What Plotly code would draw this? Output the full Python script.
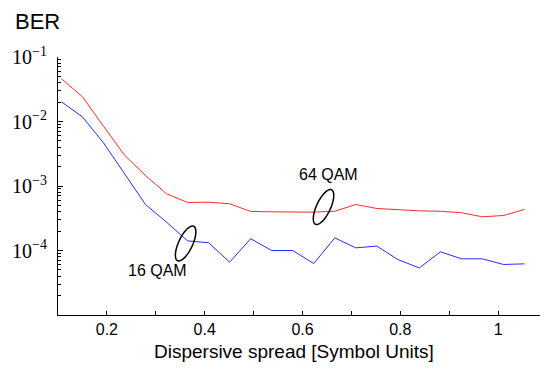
import numpy as np
import plotly.graph_objects as go

# ---- data ----
spread = [0.107, 0.150, 0.193, 0.236, 0.279, 0.322, 0.365, 0.408, 0.451, 0.494,
          0.537, 0.580, 0.623, 0.666, 0.709, 0.752, 0.795, 0.839, 0.882, 0.925,
          0.968, 1.011, 1.054]
ber_64qam = [4.59e-2, 2.42e-2, 8.45e-3, 3.01e-3, 1.455e-3, 7.57e-4, 5.55e-4, 5.61e-4,
             5.30e-4, 4.03e-4, 3.98e-4, 3.95e-4, 3.93e-4, 4.06e-4, 5.16e-4, 4.48e-4,
             4.28e-4, 4.12e-4, 4.06e-4, 3.85e-4, 3.33e-4, 3.49e-4, 4.33e-4]
ber_16qam = [2.02e-2, 1.18e-2, 4.67e-3, 1.545e-3, 5.16e-4, 2.75e-4, 1.41e-4, 1.32e-4,
             6.59e-5, 1.52e-4, 1.00e-4, 1.00e-4, 6.28e-5, 1.57e-4, 1.10e-4, 1.17e-4,
             7.24e-5, 5.37e-5, 9.55e-5, 7.43e-5, 7.43e-5, 6.07e-5, 6.21e-5]
y_tickvals = [1e-4, 1e-3, 1e-2, 1e-1]
y_ticktext = ["10<sup>\u22124</sup>", "10<sup>\u22123</sup>",
              "10<sup>\u22122</sup>", "10<sup>\u22121</sup>"]
x_tickvals = [0.2, 0.4, 0.6, 0.8, 1.0]
x_ticktext = ["0.2", "0.4", "0.6", "0.8", "1"]
labels = ["16 QAM", "64 QAM"]

# page has an 8px body margin: size the figure so the plot lands where the reference has it
OFF = 8
PAGE_W, PAGE_H = 548, 369
W, H = PAGE_W - OFF, PAGE_H - OFF
ML, MR, MT, MB = 58 - OFF, 1, 57 - OFF, 54
XR = [0.1, 1.1]
YR = [-5, -1]

fig = go.Figure()
fig.add_trace(go.Scatter(x=spread, y=ber_64qam, mode="lines",
                         line=dict(color="#ff2a2a", width=1), name="64 QAM"))
fig.add_trace(go.Scatter(x=spread, y=ber_16qam, mode="lines",
                         line=dict(color="#2a2aff", width=1), name="16 QAM"))

minor_y = [k * 10.0 ** e for e in range(-5, -1) for k in range(2, 10)]

fig.update_xaxes(range=XR, showline=True, linecolor="black", linewidth=1,
                 ticks="inside", ticklen=4, tickcolor="black",
                 tickvals=x_tickvals, ticktext=x_ticktext,
                 minor=dict(tickvals=[0.3, 0.5, 0.7, 0.9], ticks="inside",
                            ticklen=4, tickcolor="black", showgrid=False),
                 showgrid=False, zeroline=False, automargin=False,
                 tickfont=dict(family="Liberation Sans", size=16, color="black"))
fig.update_yaxes(type="log", range=YR, showline=True, linecolor="black", linewidth=1,
                 ticks="inside", ticklen=5, tickcolor="black",
                 tickvals=y_tickvals, ticktext=y_ticktext, ticklabelstandoff=6,
                 minor=dict(tickvals=minor_y, ticks="inside", ticklen=3,
                            tickcolor="black", showgrid=False),
                 showgrid=False, zeroline=False, automargin=False,
                 tickfont=dict(family="Liberation Serif", size=20, color="black"))

pw, ph = W - ML - MR, H - MT - MB

def to_px(x, logy):
    px = (x - XR[0]) / (XR[1] - XR[0]) * pw
    py = (YR[1] - logy) / (YR[1] - YR[0]) * ph
    return px, py

def ellipse_path(cx, clogy, a=19, b=7, ang=65):
    px0, py0 = to_px(cx, clogy)
    t = np.linspace(0, 2 * np.pi, 60)
    th = np.deg2rad(ang)
    ex = a * np.cos(t) * np.cos(th) - b * np.sin(t) * np.sin(th)
    ey = a * np.cos(t) * np.sin(th) + b * np.sin(t) * np.cos(th)
    xs = (px0 + ex) / pw
    ys = (ph - (py0 - ey)) / ph
    return "M " + " L ".join(f"{u:.5f},{v:.5f}" for u, v in zip(xs, ys)) + " Z"

ell_centers = [(0.361, -3.891), (0.643, -3.326)]
for cx, cy in ell_centers:
    fig.add_shape(type="path", xref="paper", yref="paper", path=ellipse_path(cx, cy),
                  line=dict(color="black", width=1.5))

label_pos = [(0.304, -4.31), (0.6525, -2.82)]
for (lx, ly), txt in zip(label_pos, labels):
    fig.add_annotation(x=lx, y=ly, xref="x", yref="y", text=txt, showarrow=False,
                       font=dict(family="Liberation Sans", size=16, color="black"))

def page_to_paper(px, py):
    return (px - OFF - ML) / pw, (MT + ph - (py - OFF)) / ph

bx, by = page_to_paper(13, 22)
fig.add_annotation(xref="paper", yref="paper", x=bx, y=by,
                   xanchor="left", yanchor="middle", text="BER", showarrow=False,
                   font=dict(family="Liberation Sans", size=22, color="black"))
tx, ty = page_to_paper(294, 351)
fig.add_annotation(xref="paper", yref="paper", x=tx, y=ty,
                   xanchor="center", yanchor="middle",
                   text="Dispersive spread [Symbol Units]", showarrow=False,
                   font=dict(family="Liberation Sans", size=19, color="black"))

fig.update_layout(width=W, height=H, margin=dict(l=ML, r=MR, t=MT, b=MB),
                  paper_bgcolor="white", plot_bgcolor="white", showlegend=False)
fig.write_html("out.html")
